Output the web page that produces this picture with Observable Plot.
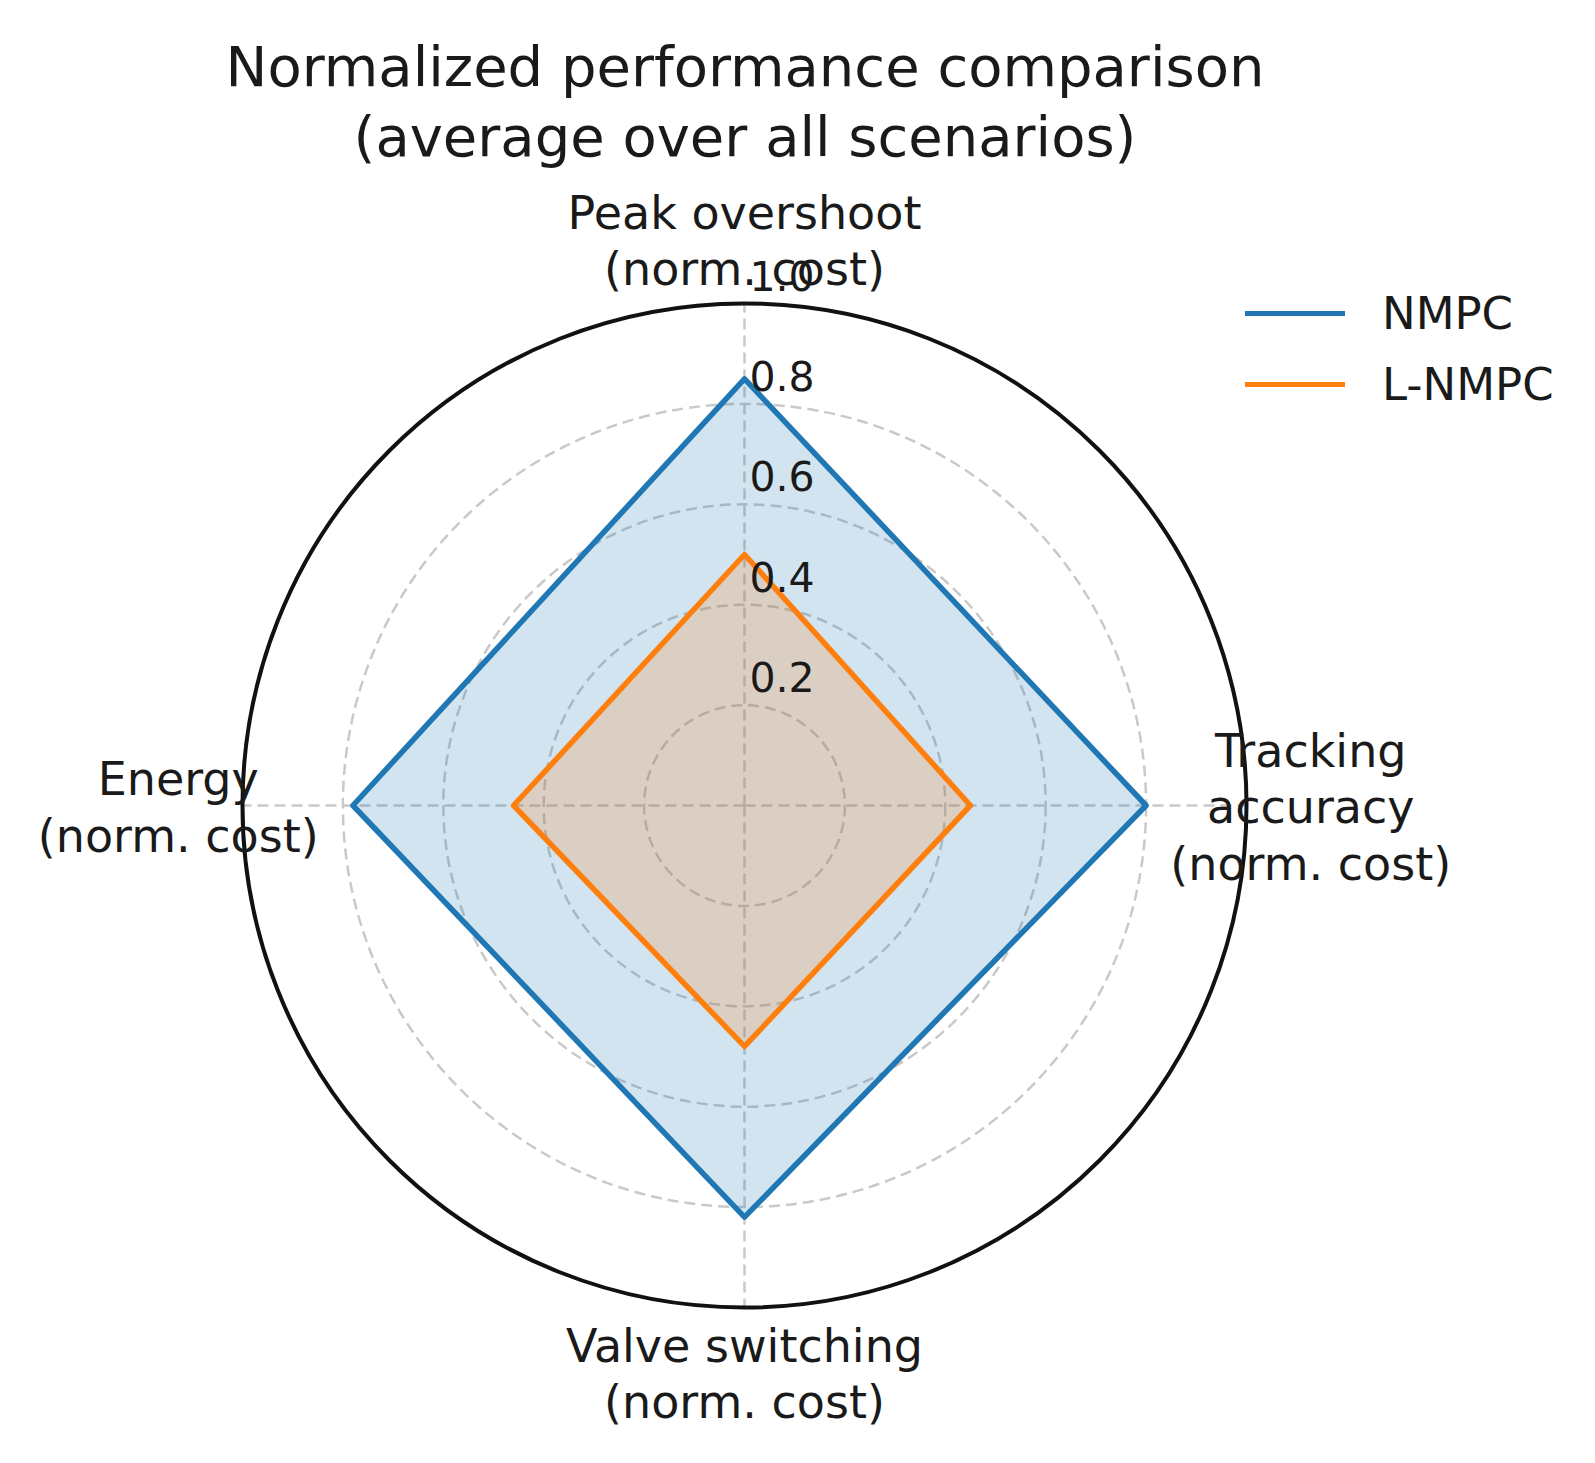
<!DOCTYPE html>
<html>
<head>
<meta charset="utf-8">
<script src="https://cdn.jsdelivr.net/npm/d3@7"></script>
<script src="https://cdn.jsdelivr.net/npm/@observablehq/plot@0.6"></script>
<style>
  html, body { margin: 0; padding: 0; background: #fff; }
  body { width: 1595px; height: 1463px; position: relative; overflow: hidden; font-family: "DejaVu Sans", sans-serif; color: #1a1a1a; }
  #title { width: 1490px; text-align: center; font-size: 56px; line-height: 70px; padding-top: 32px; height: 143px; white-space: pre; }
  #chart { display: block; }
  .leg { position: absolute; left: 1245px; height: 60px; display: flex; align-items: center; font-size: 45px; }
  .leg .sw { width: 100px; height: 5px; margin-right: 37px; }
</style>
</head>
<body>
<div id="title"></div>
<div id="chart"></div>
<div id="legend"></div>
<script>
// ---- data ----
const titleLines = ["Normalized performance comparison", "(average over all scenarios)"];
const categories = ["Peak overshoot\n(norm. cost)", "Tracking\naccuracy\n(norm. cost)", "Valve switching\n(norm. cost)", "Energy\n(norm. cost)"];
const seriesNames = ["NMPC", "L-NMPC"];
const nmpcValues = [0.85, 0.80, 0.82, 0.78];
const lnmpcValues = [0.50, 0.45, 0.48, 0.46];
const rTicks = [0.2, 0.4, 0.6, 0.8, 1.0];
const rTickLabels = ["0.2", "0.4", "0.6", "0.8", "1.0"];
const seriesColors = ["#1f77b4", "#ff7f0e"];

// ---- layout ----
const W = 1595, H = 1288;
const R = 502;          // px per unit radius
const cx = 744, cy = 630; // centre inside the svg
const labelRadius = 1.128;

document.getElementById("title").textContent = titleLines.join("\n");

const angle = i => i * 2 * Math.PI / categories.length;
const seriesValues = [nmpcValues, lnmpcValues];
const rows = [];
seriesNames.forEach((s, k) => seriesValues[k].forEach((v, i) => rows.push({series: s, i, v})));

const grid = {stroke: "#c9c9c9", strokeWidth: 2.5, strokeDasharray: "11,6"};

const seriesMarks = seriesNames.map((s, k) =>
  Plot.line(rows.filter(d => d.series === s), {
    x: d => d.v * Math.sin(angle(d.i)),
    y: d => d.v * Math.cos(angle(d.i)),
    curve: "linear-closed",
    fill: seriesColors[k], fillOpacity: 0.2,
    stroke: seriesColors[k], strokeWidth: 5.5, strokeLinejoin: "round"
  })
);

const chart = Plot.plot({
  width: W, height: H, margin: 0,
  x: {domain: [-cx / R, (W - cx) / R], axis: null},
  y: {domain: [-(H - cy) / R, cy / R], axis: null},
  r: {type: "linear", domain: [0, 1], range: [0, R]},
  style: {fontFamily: "DejaVu Sans", background: "white", overflow: "visible"},
  marks: [
    Plot.dot(rTicks.slice(0, -1), {x: () => 0, y: () => 0, r: d => d, fill: "none", ...grid}),
    Plot.link(categories, {x1: () => 0, y1: () => 0, x2: (d, i) => Math.sin(angle(i)), y2: (d, i) => Math.cos(angle(i)), ...grid}),
    ...seriesMarks,
    Plot.dot(rTicks.slice(-1), {x: () => 0, y: () => 0, r: d => d, fill: "none", stroke: "#111", strokeWidth: 4}),
    Plot.text(rTicks, {x: () => 0, y: d => d, text: (d, i) => rTickLabels[i], textAnchor: "start", dx: 5, dy: -26, fontSize: 41, fill: "#1a1a1a"}),
    Plot.text(categories, {
      x: (d, i) => labelRadius * Math.sin(angle(i)),
      y: (d, i) => labelRadius * Math.cos(angle(i)),
      text: d => d, textAnchor: "middle", lineAnchor: "middle", lineHeight: 1.22, fontSize: 46, fill: "#1a1a1a"
    })
  ]
});
document.getElementById("chart").append(chart);

// legend
const legendY = [313, 384];
const legend = document.getElementById("legend");
seriesNames.forEach((s, k) => {
  const row = document.createElement("div");
  row.className = "leg";
  row.style.top = (legendY[k] - 30) + "px";
  const sw = document.createElement("span");
  sw.className = "sw";
  sw.style.background = seriesColors[k];
  const t = document.createElement("span");
  t.textContent = s;
  row.append(sw, t);
  legend.append(row);
});
</script>
</body>
</html>
